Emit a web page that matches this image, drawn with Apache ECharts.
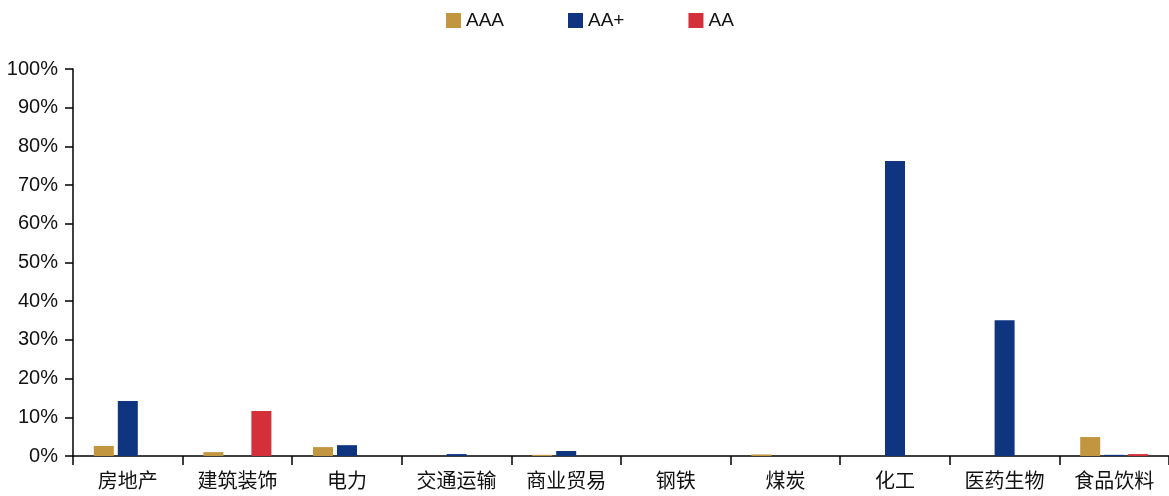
<!DOCTYPE html>
<html>
<head>
<meta charset="utf-8">
<script src="https://cdn.jsdelivr.net/npm/echarts@6/dist/echarts.min.js"></script>
<style>
html,body{margin:0;padding:0;background:#fff;}
#chart{width:1169px;height:496px;}
</style>
</head>
<body>
<div id="chart"></div>
<script>
// Industry categories on the x axis
const categories = ['房地产', '建筑装饰', '电力', '交通运输', '商业贸易', '钢铁', '煤炭', '化工', '医药生物', '食品饮料'];
// Share (%) by rating grade
const seriesNames = ['AAA', 'AA+', 'AA'];
const aaaValues = [2.6, 1.0, 2.3, 0, 0.3, 0, 0.4, 0, 0, 4.9];
const aaPlusValues = [14.2, 0, 2.8, 0.5, 1.3, 0, 0, 76.2, 35.1, 0.3];
const aaValues = [0, 11.6, 0, 0, 0, 0, 0, 0, 0, 0.5];
const colors = ['#C1963E', '#0F3580', '#D3303A'];

const chart = echarts.init(document.getElementById('chart'));
const fontFamily = '"Liberation Sans", "Noto Sans CJK SC", sans-serif';

function bar(name, data, color) {
  return {
    name: name,
    type: 'bar',
    data: data,
    barWidth: 20,
    barGap: '20%',
    itemStyle: { color: color }
  };
}

chart.setOption({
  animation: false,
  legend: {
    top: 6,
    left: 441,
    itemWidth: 15,
    itemHeight: 15,
    itemGap: 64,
    icon: 'rect',
    textStyle: { fontSize: 19, color: '#111', fontFamily: fontFamily },
    data: seriesNames
  },
  grid: { left: 73, top: 69, width: 1100, height: 387, containLabel: false },
  xAxis: {
    type: 'category',
    data: categories,
    axisLine: { lineStyle: { color: '#000', width: 1.5 } },
    axisTick: { show: true, length: 9, lineStyle: { color: '#000', width: 1.5 } },
    axisLabel: { fontSize: 20, color: '#111', margin: 16, fontFamily: fontFamily }
  },
  yAxis: {
    type: 'value',
    min: 0,
    max: 100,
    interval: 10,
    splitLine: { show: false },
    axisLine: { show: true, lineStyle: { color: '#000', width: 1.5 } },
    axisTick: { show: true, length: 8, lineStyle: { color: '#000', width: 1.5 } },
    axisLabel: { formatter: '{value}%', fontSize: 20, color: '#111', margin: 15, fontFamily: fontFamily }
  },
  series: [
    bar(seriesNames[0], aaaValues, colors[0]),
    bar(seriesNames[1], aaPlusValues, colors[1]),
    bar(seriesNames[2], aaValues, colors[2])
  ]
});
</script>
</body>
</html>
